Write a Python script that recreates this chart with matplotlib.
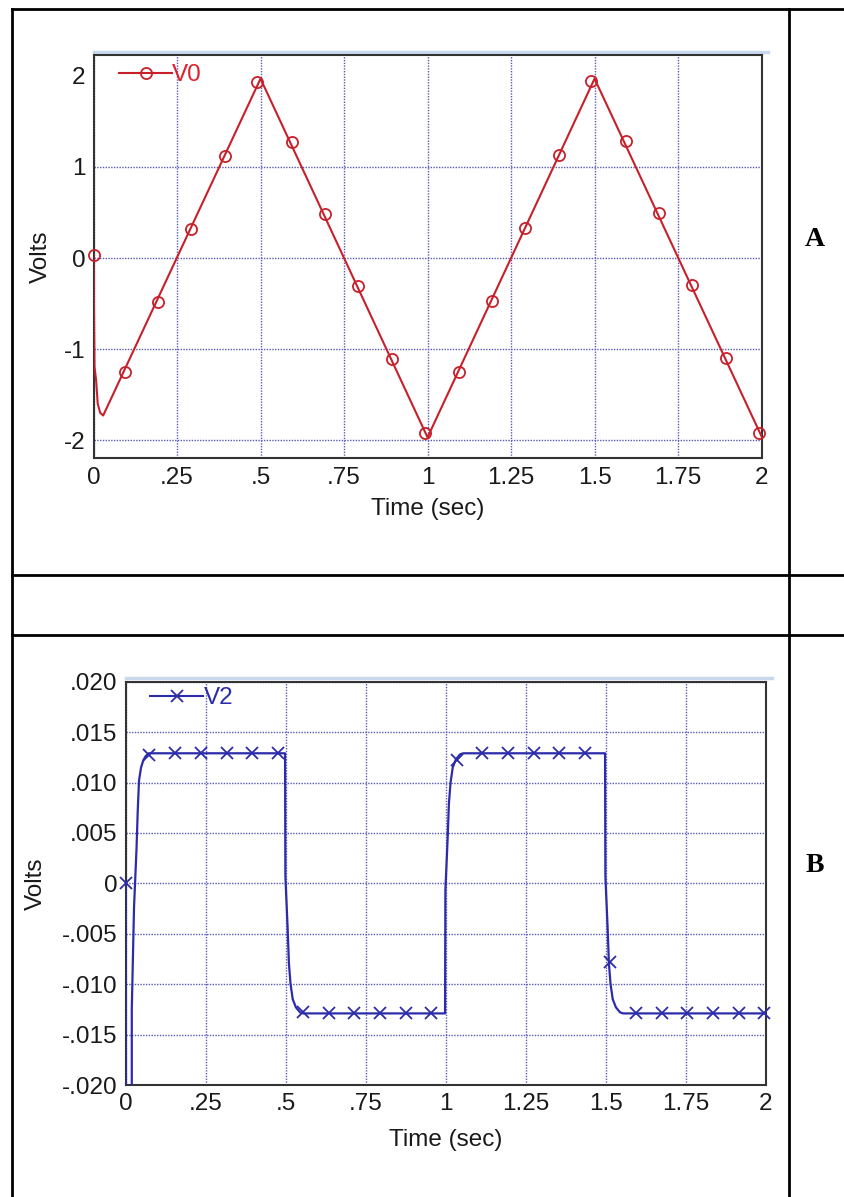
import matplotlib
matplotlib.use("Agg")
import matplotlib.pyplot as plt
from matplotlib.lines import Line2D

# ---------------- data ----------------
# Panel A : V0 (triangle wave)
a_line_t = [0.0, 0.002, 0.003, 0.008, 0.0126, 0.02, 0.029, 0.5, 1.0, 1.5, 2.0]
a_line_v = [0.03, -0.77, -1.19, -1.35, -1.60, -1.70, -1.73, 1.97, -1.97, 1.97, -1.96]
a_mark_t = [0.0, 0.093, 0.193, 0.293, 0.393, 0.49, 0.593, 0.693, 0.793, 0.893, 0.993,
            1.093, 1.193, 1.293, 1.393, 1.49, 1.593, 1.693, 1.793, 1.893, 1.993]
a_mark_v = [0.03, -1.25, -0.48, 0.32, 1.12, 1.93, 1.27, 0.48, -0.31, -1.11, -1.92,
            -1.25, -0.47, 0.33, 1.13, 1.94, 1.28, 0.49, -0.30, -1.10, -1.92]
a_xticks = [0, 0.25, 0.5, 0.75, 1.0, 1.25, 1.5, 1.75, 2.0]
a_xticklabels = ["0", ".25", ".5", ".75", "1", "1.25", "1.5", "1.75", "2"]
a_yticks = [-2, -1, 0, 1, 2]
a_yticklabels = ["-2", "-1", "0", "1", "2"]

# Panel B : V2 (square-like wave)
b_line_t = [0.0, 0.002, 0.004, 0.019, 0.019, 0.026, 0.034, 0.0375, 0.0416, 0.048, 0.055, 0.062, 0.072,
            0.498, 0.499, 0.506, 0.510, 0.515, 0.522, 0.532, 0.545, 0.555,
            0.998, 0.999, 1.006, 1.010, 1.015, 1.022, 1.032, 1.045, 1.055,
            1.498, 1.499, 1.506, 1.510, 1.515, 1.522, 1.532, 1.545, 1.555, 2.0]
b_line_v = [0.0, -0.05, -0.05, -0.05, -0.0125, -0.0024, 0.0036, 0.0071, 0.0102, 0.0115, 0.0122, 0.0126, 0.0129,
            0.0129, 0.0007, -0.0044, -0.0079, -0.00995, -0.0115, -0.0123, -0.0128, -0.0129,
            -0.0129, -0.0007, 0.0044, 0.0079, 0.00995, 0.0115, 0.0123, 0.0128, 0.0129,
            0.0129, 0.0007, -0.0044, -0.0079, -0.00995, -0.0115, -0.0123, -0.0128, -0.0129, -0.0129]
b_mark_t = [0.0, 0.072, 0.155, 0.235, 0.315, 0.395, 0.475, 0.555, 0.635, 0.715, 0.795, 0.875, 0.955,
            1.035, 1.115, 1.195, 1.275, 1.355, 1.435, 1.512, 1.595, 1.675, 1.755, 1.835, 1.915, 1.995]
b_mark_v = [0.0, 0.0127, 0.0129, 0.0129, 0.0129, 0.0129, 0.0129, -0.0128, -0.0129, -0.0129, -0.0129, -0.0129, -0.0129,
            0.0122, 0.0129, 0.0129, 0.0129, 0.0129, 0.0129, -0.0078, -0.0129, -0.0129, -0.0129, -0.0129, -0.0129, -0.0129]
b_xticks = a_xticks
b_xticklabels = a_xticklabels
b_yticks = [-0.020, -0.015, -0.010, -0.005, 0.0, 0.005, 0.010, 0.015, 0.020]
b_yticklabels = ["-.020", "-.015", "-.010", "-.005", "0", ".005", ".010", ".015", ".020"]

# ---------------- style ----------------
plt.rcParams['font.family'] = ['Liberation Sans', 'DejaVu Sans']
FS = 17.5
RED = '#c8202a'
RED_TXT = '#e0202c'
BLUE = '#2c2caa'
GRID = '#5a5ab8'
SPINE = '#333333'
W, H = 844, 1197

fig = plt.figure(figsize=(W / 100, H / 100), dpi=100)
fig.patch.set_facecolor('white')


def px_rect(left, top, right, bottom):
    return [left / W, 1 - bottom / H, (right - left) / W, (bottom - top) / H]


def style_axes(ax, xticks, xtl, yticks, ytl, ylim, xlbl_y, ylbl_x):
    ax.set_xlim(0, 2)
    ax.set_ylim(*ylim)
    ax.set_xticks(xticks)
    ax.set_xticklabels(xtl)
    ax.set_yticks(yticks)
    ax.set_yticklabels(ytl)
    ax.tick_params(axis='both', length=0, labelsize=FS, colors='#1a1a1a')
    ax.tick_params(axis='x', pad=6)
    ax.tick_params(axis='y', pad=6)
    ax.grid(True, color=GRID, linestyle=(0, (1, 1)), linewidth=1.0)
    ax.set_axisbelow(True)
    for s in ax.spines.values():
        s.set_color(SPINE)
        s.set_linewidth(1.5)
    ax.set_xlabel('Time (sec)', fontsize=FS, color='#1a1a1a')
    ax.set_ylabel('Volts', fontsize=FS, color='#1a1a1a')
    ax.xaxis.set_label_coords(0.5, xlbl_y)
    ax.yaxis.set_label_coords(ylbl_x, 0.5)
    # faint light-blue edge above top spine
    ax.plot([0, 1.01], [1.008, 1.008], transform=ax.transAxes, color='#c9d9ec',
            lw=2.5, clip_on=False, zorder=0)


# ---------- Panel A ----------
axA = fig.add_axes(px_rect(93.5, 55, 761.6, 458.3))
axA.plot(a_line_t, a_line_v, color=RED, lw=1.5, zorder=3)
axA.plot(a_mark_t, a_mark_v, linestyle='none', marker='o', ms=8, mfc='none',
         mec=RED, mew=1.3, clip_on=False, zorder=4)
style_axes(axA, a_xticks, a_xticklabels, a_yticks, a_yticklabels, (-2.2, 2.23), -0.098, -0.062)
axA.get_ygridlines()[-1].set_visible(False)
hA = Line2D([], [], color=RED, lw=1.5, marker='o', ms=8, mfc='none', mec=RED, mew=1.3)
legA = axA.legend([hA], ['V0'], loc='upper left', bbox_to_anchor=(0.038, 0.977),
                  frameon=False, fontsize=FS, handlelength=2.2, handletextpad=0.0,
                  borderpad=0, borderaxespad=0)
for t in legA.get_texts():
    t.set_color(RED_TXT)

# ---------- Panel B ----------
axB = fig.add_axes(px_rect(125.7, 681.7, 765.7, 1085))
axB.plot(b_line_t, b_line_v, color=BLUE, lw=1.6, zorder=3)
axB.plot(b_mark_t, b_mark_v, linestyle='none', marker='x', ms=8.5, mec=BLUE, mew=1.3,
         clip_on=False, zorder=4)
style_axes(axB, b_xticks, b_xticklabels, b_yticks, b_yticklabels, (-0.020, 0.020), -0.108, -0.123)
hB = Line2D([], [], color=BLUE, lw=1.5, marker='x', ms=8.5, mec=BLUE, mew=1.3)
legB = axB.legend([hB], ['V2'], loc='upper left', bbox_to_anchor=(0.038, 0.986),
                  frameon=False, fontsize=FS, handlelength=2.2, handletextpad=0.0,
                  borderpad=0, borderaxespad=0)
for t in legB.get_texts():
    t.set_color(BLUE)

# ---------- table frame ----------
TLW = 2.0


def hline(y, x0, x1):
    fig.add_artist(Line2D([x0 / W, x1 / W], [1 - y / H, 1 - y / H], transform=fig.transFigure,
                          color='black', lw=TLW, solid_capstyle='projecting'))


def vline(x, y0, y1):
    fig.add_artist(Line2D([x / W, x / W], [1 - y0 / H, 1 - y1 / H], transform=fig.transFigure,
                          color='black', lw=TLW, solid_capstyle='projecting'))


hline(8.5, 12, 844)
hline(575, 12, 844)
hline(635, 12, 844)
vline(12, 8.5, 1197)
vline(788.5, 8.5, 1197)

fig.text(815 / W, 1 - 240 / H, 'A', fontsize=20, fontweight='bold', ha='center', va='center',
         family=['Liberation Serif', 'DejaVu Serif'])
fig.text(815 / W, 1 - 866 / H, 'B', fontsize=20, fontweight='bold', ha='center', va='center',
         family=['Liberation Serif', 'DejaVu Serif'])

fig.savefig('out.png', dpi=100, facecolor='white')
